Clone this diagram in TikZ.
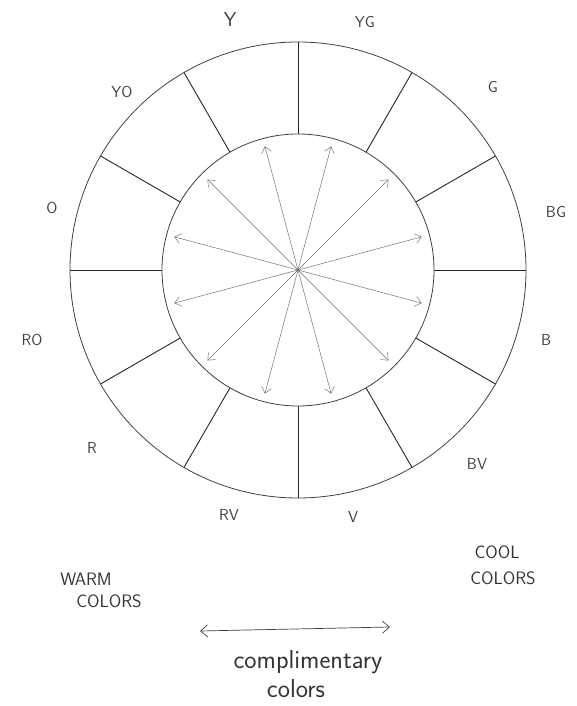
\documentclass[tikz,border=0pt]{standalone}
\usetikzlibrary{arrows.meta}
\begin{document}
\begin{tikzpicture}[x=1pt,y=1pt,
  ring/.style={draw=black!75, line width=0.8pt},
  spoke/.style={draw=black!85, line width=0.9pt},
  comp/.style={draw=black!55, line width=0.5pt,
    {Straight Barb[length=6pt,width=10pt]}-{Straight Barb[length=6pt,width=10pt]}},
  lbl/.style={font=\sffamily\fontsize{16}{16}\selectfont, text=black!75, inner sep=0pt},
  note/.style={font=\sffamily\fontsize{18}{18}\selectfont, text=black!80, inner sep=0pt},
  hand/.style={font=\sffamily\fontsize{26}{26}\selectfont, text=black!80, inner sep=0pt},
  bigarrow/.style={draw=black!75, line width=0.7pt,
    {Straight Barb[length=7pt,width=12pt]}-{Straight Barb[length=7pt,width=12pt]}}]
\useasboundingbox (0,0) rectangle (577,706);
\coordinate (c) at (298,436);
% rings
\draw[ring] (c) circle[radius=228];
\draw[ring] (c) circle[radius=136];
% spokes
\foreach \a in {0,30,...,330}
  \draw[spoke] ([shift={(\a:136)}]c) -- ([shift={(\a:228)}]c);
% complementary arrows
\foreach \a in {15,45,...,165}
  \draw[comp] ([shift={(\a:128)}]c) -- ([shift={(\a+180:128)}]c);
% labels
\node[lbl, font=\sffamily\fontsize{20}{20}\selectfont] (ly)  at (230,686) {Y};
\node[lbl] (lyg) at (365,684) {YG};
\node[lbl] (lyo) at (122,614) {YO};
\node[lbl] (lg)  at (493,619) {G};
\node[lbl] (lo)  at (52,498)  {O};
\node[lbl] (lbg) at (556,494) {BG};
\node[lbl] (lro) at (32,366)  {RO};
\node[lbl] (lb)  at (546,366) {B};
\node[lbl] (lr)  at (92,258)  {R};
\node[lbl] (lbv) at (477,242) {BV};
\node[lbl] (lrv) at (229,191) {RV};
\node[lbl] (lv)  at (353,189) {V};
% notes
\node[note] (warm)  at (86,127)  {WARM};
\node[note] (warmc) at (109,105) {COLORS};
\node[note] (cool)  at (497,154) {COOL};
\node[note] (coolc) at (503,128) {COLORS};
\coordinate (aL) at (200,75);
\coordinate (aR) at (390,79);
\draw[bigarrow] (aL) -- (aR);
\node[hand] (compl) at (308,44) {complimentary};
\node[hand] (colrs) at (296,17) {colors};
\end{tikzpicture}
\end{document}
